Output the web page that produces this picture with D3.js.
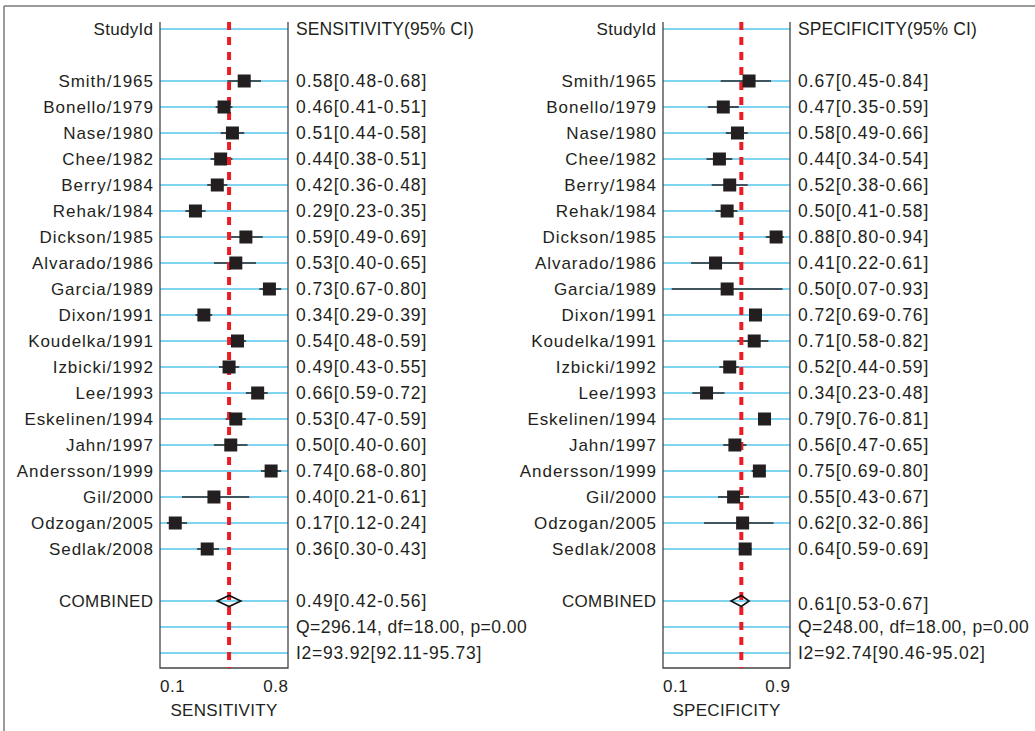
<!DOCTYPE html>
<html>
<head>
<meta charset="utf-8">
<script src="https://cdn.jsdelivr.net/npm/d3@7"></script>
<style>
  body { margin: 0; background: #fff; }
  text { font-family: "Liberation Sans", Arial, sans-serif; fill: #231f20; }
</style>
</head>
<body>
<svg id="chart" width="1035" height="731"></svg>
<script>
// donnees
var studies = ["Smith/1965", "Bonello/1979", "Nase/1980", "Chee/1982", "Berry/1984", "Rehak/1984",
  "Dickson/1985", "Alvarado/1986", "Garcia/1989", "Dixon/1991", "Koudelka/1991", "Izbicki/1992",
  "Lee/1993", "Eskelinen/1994", "Jahn/1997", "Andersson/1999", "Gil/2000", "Odzogan/2005", "Sedlak/2008"];

var sens = [0.58, 0.46, 0.51, 0.44, 0.42, 0.29, 0.59, 0.53, 0.73, 0.34, 0.54, 0.49, 0.66, 0.53, 0.50, 0.74, 0.40, 0.17, 0.36];
var sensLo = [0.48, 0.41, 0.44, 0.38, 0.36, 0.23, 0.49, 0.40, 0.67, 0.29, 0.48, 0.43, 0.59, 0.47, 0.40, 0.68, 0.21, 0.12, 0.30];
var sensHi = [0.68, 0.51, 0.58, 0.51, 0.48, 0.35, 0.69, 0.65, 0.80, 0.39, 0.59, 0.55, 0.72, 0.59, 0.60, 0.80, 0.61, 0.24, 0.43];

var spec = [0.67, 0.47, 0.58, 0.44, 0.52, 0.50, 0.88, 0.41, 0.50, 0.72, 0.71, 0.52, 0.34, 0.79, 0.56, 0.75, 0.55, 0.62, 0.64];
var specLo = [0.45, 0.35, 0.49, 0.34, 0.38, 0.41, 0.80, 0.22, 0.07, 0.69, 0.58, 0.44, 0.23, 0.76, 0.47, 0.69, 0.43, 0.32, 0.59];
var specHi = [0.84, 0.59, 0.66, 0.54, 0.66, 0.58, 0.94, 0.61, 0.93, 0.76, 0.82, 0.59, 0.48, 0.81, 0.65, 0.80, 0.67, 0.86, 0.69];

var sensCombined = [0.49, 0.42, 0.56];
var specCombined = [0.61, 0.53, 0.67];
var sensStats = ["Q=296.14, df=18.00, p=0.00", "I2=93.92[92.11-95.73]"];
var specStats = ["Q=248.00, df=18.00, p=0.00", "I2=92.74[90.46-95.02]"];

var sensTicks = [0.1, 0.8];
var specTicks = [0.1, 0.9];

var svg = d3.select("#chart");

// cadre exterieur
svg.append("line").attr("x1", 4).attr("x2", 1035).attr("y1", 6).attr("y2", 6)
  .attr("stroke", "#7a7a7a").attr("stroke-width", 1.5);
svg.append("line").attr("x1", 4).attr("x2", 4).attr("y1", 6).attr("y2", 731)
  .attr("stroke", "#7a7a7a").attr("stroke-width", 1.5);

// lignes : 0 entete, 1 vide, 2..20 etudes, 21 vide, 22 combined, 23 Q, 24 I2
var row = d3.scaleLinear().domain([0, 24]).range([29, 653]);

function fmt(v) { return v.toFixed(2); }

function panel(opt) {
  var g = svg.append("g");
  var x = d3.scaleLinear().domain(opt.ticks).range(opt.tickRange);
  var top = 22, bottom = 668;

  // lignes bleues
  var lineRows = [0].concat(d3.range(2, 21), [22, 23, 24]);
  g.selectAll(".grid")
    .data(lineRows)
    .enter()
    .append("line")
    .attr("x1", opt.left).attr("x2", opt.right)
    .attr("y1", function (d) { return row(d); })
    .attr("y2", function (d) { return row(d); })
    .attr("stroke", "#55c6ee")
    .attr("stroke-width", 1.4);

  // boite
  g.append("path")
    .attr("d", "M" + opt.left + "," + top + "V" + bottom + "H" + opt.right + "V" + top)
    .attr("fill", "none")
    .attr("stroke", "#444")
    .attr("stroke-width", 1.3);

  // intervalles
  g.selectAll(".ci")
    .data(opt.est)
    .enter()
    .append("line")
    .attr("x1", function (d, i) { return x(opt.lo[i]); })
    .attr("x2", function (d, i) { return x(opt.hi[i]); })
    .attr("y1", function (d, i) { return row(i + 2); })
    .attr("y2", function (d, i) { return row(i + 2); })
    .attr("stroke", "#2b2b2b")
    .attr("stroke-width", 1.6);

  // ligne rouge
  g.append("line")
    .attr("x1", x(opt.comb[0])).attr("x2", x(opt.comb[0]))
    .attr("y1", top).attr("y2", bottom)
    .attr("stroke", "#ec1c24")
    .attr("stroke-width", 4)
    .style("stroke-dasharray", "8,7");

  // carres
  var s = 13;
  g.selectAll(".sq")
    .data(opt.est)
    .enter()
    .append("rect")
    .attr("x", function (d) { return x(d) - s / 2; })
    .attr("y", function (d, i) { return row(i + 2) - s / 2; })
    .attr("width", s).attr("height", s)
    .attr("fill", "#231f20");

  // losange
  var cy = row(22);
  g.append("path")
    .attr("d", "M" + x(opt.comb[1]) + "," + cy + "L" + x(opt.comb[0]) + "," + (cy - 5.5) +
      "L" + x(opt.comb[2]) + "," + cy + "L" + x(opt.comb[0]) + "," + (cy + 5.5) + "Z")
    .attr("fill", "none")
    .attr("stroke", "#111")
    .attr("stroke-width", 1.6);

  // textes gauche
  var labels = [{ t: "StudyId", r: 0, ls: 0.3 }].concat(opt.names.map(function (n, i) { return { t: n, r: i + 2, ls: 0.95 }; }),
    [{ t: "COMBINED", r: 22, ls: 0.35 }]);
  g.selectAll(".lab")
    .data(labels)
    .enter()
    .append("text")
    .attr("x", function (d) { return opt.left - 7 + d.ls; })
    .attr("y", function (d) { return row(d.r) + 6; })
    .attr("text-anchor", "end")
    .style("font-size", "17px")
    .style("letter-spacing", function (d) { return d.ls + "px"; })
    .text(function (d) { return d.t; });

  // textes droite
  var vals = [{ t: opt.header, r: 0, dy: 0, ls: 0.1 }].concat(opt.est.map(function (d, i) {
    return { t: fmt(d) + "[" + fmt(opt.lo[i]) + "-" + fmt(opt.hi[i]) + "]", r: i + 2, dy: 0, ls: 0.9 };
  }), [{ t: fmt(opt.comb[0]) + "[" + fmt(opt.comb[1]) + "-" + fmt(opt.comb[2]) + "]", r: 22, dy: opt.combDy, ls: 0.9 },
    { t: opt.stats[0], r: 23, dy: 0, ls: 0.45 }, { t: opt.stats[1], r: 24, dy: 0, ls: 0.75 }]);
  g.selectAll(".val")
    .data(vals)
    .enter()
    .append("text")
    .attr("x", opt.right + 8)
    .attr("y", function (d) { return row(d.r) + 6 + d.dy; })
    .style("font-size", "17.5px")
    .style("letter-spacing", function (d) { return d.ls + "px"; })
    .text(function (d) { return d.t; });

  // axe : etiquettes calees sur les bords de la boite
  g.selectAll(".tick")
    .data(opt.ticks)
    .enter()
    .append("text")
    .attr("x", function (d, i) { return i === 0 ? opt.left : opt.right + 0.5; })
    .attr("y", 692)
    .attr("text-anchor", function (d, i) { return i === 0 ? "start" : "end"; })
    .style("font-size", "17px")
    .style("letter-spacing", "0.5px")
    .text(function (d) { return d; });

  g.append("text")
    .attr("x", (opt.left + opt.right) / 2)
    .attr("y", 716)
    .attr("text-anchor", "middle")
    .style("font-size", "17px")
    .style("letter-spacing", "0.3px")
    .text(opt.axisTitle);
}

panel({
  left: 160, right: 288, ticks: sensTicks, tickRange: [163.5, 281.2],
  names: studies, est: sens, lo: sensLo, hi: sensHi, comb: sensCombined, combDy: 0,
  stats: sensStats, header: "SENSITIVITY(95% CI)", axisTitle: "SENSITIVITY"
});
panel({
  left: 663, right: 790, ticks: specTicks, tickRange: [675.6, 778.7],
  names: studies, est: spec, lo: specLo, hi: specHi, comb: specCombined, combDy: 3,
  stats: specStats, header: "SPECIFICITY(95% CI)", axisTitle: "SPECIFICITY"
});
</script>
</body>
</html>
